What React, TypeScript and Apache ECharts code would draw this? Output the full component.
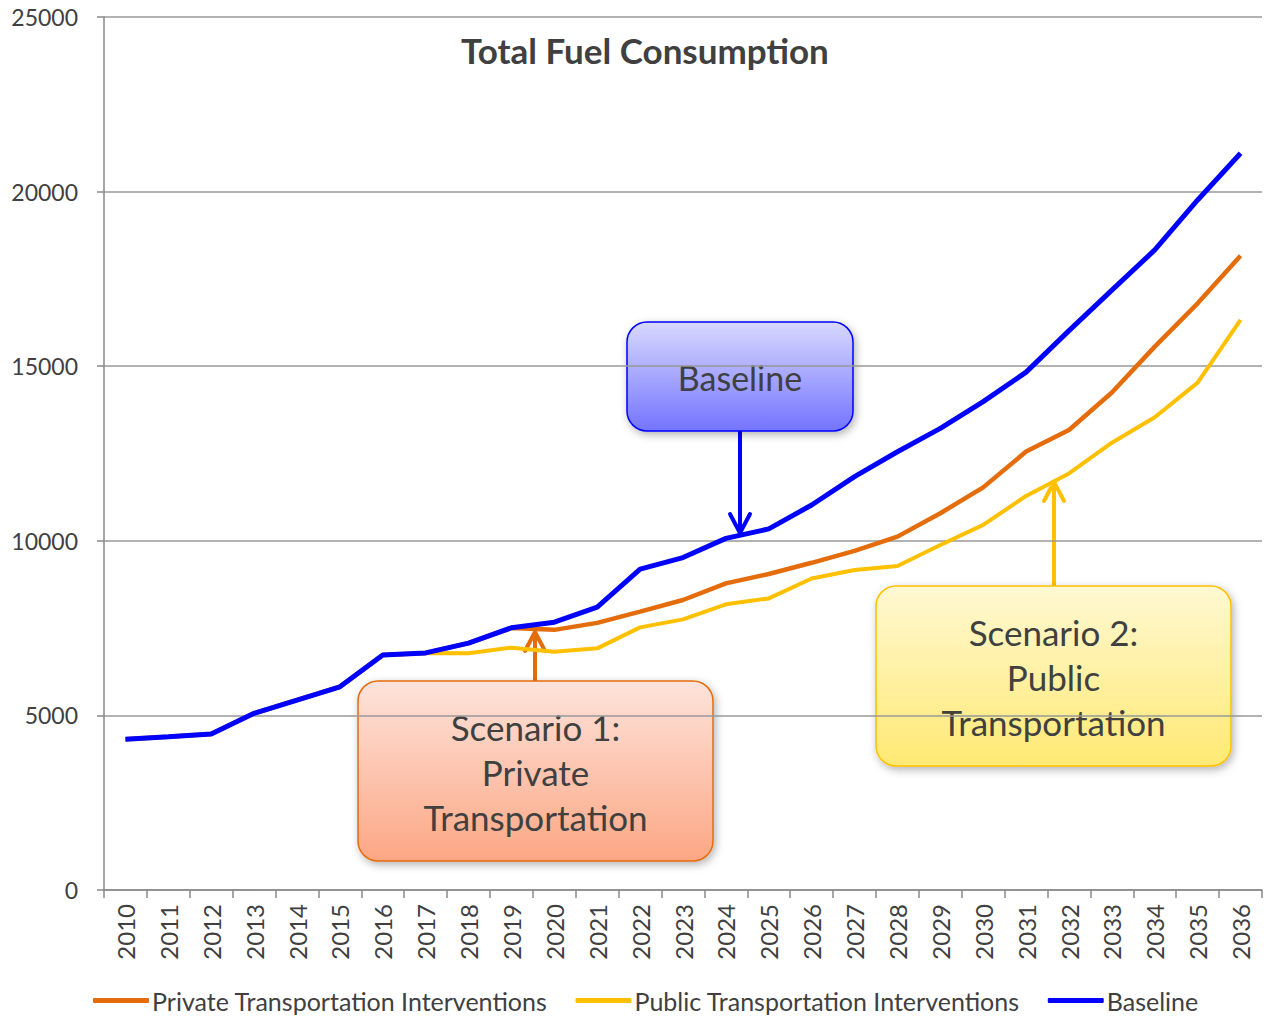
import React, { useEffect, useRef } from "react";
import * as echarts from "echarts";

const years = ["2010","2011","2012","2013","2014","2015","2016","2017","2018","2019","2020","2021","2022","2023","2024","2025","2026","2027","2028","2029","2030","2031","2032","2033","2034","2035","2036"];
const baseline = [4320,4390,4470,5060,5440,5820,6730,6790,7070,7510,7670,8100,9190,9520,10070,10340,11025,11840,12550,13220,13985,14830,16020,17180,18330,19760,21100];
const privateTransport = [4320,4390,4470,5060,5440,5820,6730,6790,7070,7500,7450,7650,7970,8305,8780,9050,9370,9710,10120,10790,11530,12555,13175,14245,15560,16800,18160];
const publicTransport = [4320,4390,4470,5060,5440,5820,6730,6790,6780,6940,6820,6920,7520,7750,8180,8350,8920,9165,9280,9880,10455,11285,11930,12810,13540,14530,16325];
const seriesNames = ["Private Transportation Interventions","Public Transportation Interventions","Baseline"];
const yTicks = { min: 0, max: 25000, interval: 5000 };

const FONT = "Lato";
const TXT = "#404040";

function box(x: number, y: number, w: number, h: number, top: string, bottom: string, border: string, lines: string[], lineH: number, size: number) {
  return {
    type: "group",
    z: 100,
    children: [
      {
        type: "rect",
        shape: { x, y, width: w, height: h, r: 20 },
        style: {
          fill: new echarts.graphic.LinearGradient(0, 0, 0, 1, [
            { offset: 0, color: top },
            { offset: 1, color: bottom },
          ]),
          stroke: border,
          lineWidth: 1.5,
          shadowBlur: 8,
          shadowOffsetX: 2,
          shadowOffsetY: 3,
          shadowColor: "rgba(0,0,0,0.3)",
        },
      },
      {
        type: "text",
        x: x + w / 2,
        y: y + h / 2 + 1,
        style: {
          text: lines.join("\n"),
          font: `${size}px ${FONT}`,
          fill: TXT,
          align: "center",
          verticalAlign: "middle",
          lineHeight: lineH,
        },
      },
    ],
  };
}

function arrow(x: number, y1: number, y2: number, color: string, w: number) {
  const dir = y2 > y1 ? 1 : -1;
  return {
    type: "group",
    z: 99,
    children: [
      { type: "line", shape: { x1: x, y1, x2: x, y2: y2 - dir * 1 }, style: { stroke: color, lineWidth: w } },
      {
        type: "polyline",
        shape: { points: [[x - 10, y2 - dir * 19], [x, y2], [x + 10, y2 - dir * 19]] },
        style: { stroke: color, lineWidth: w, fill: "none", lineCap: "round", lineJoin: "round" },
      },
    ],
  };
}

export default function App() {
  const ref = useRef<HTMLDivElement>(null);
  useEffect(() => {
    if (!ref.current) return;
    const chart = echarts.init(ref.current, null, { renderer: "svg" });
    chart.setOption({
      animation: false,
      backgroundColor: "#ffffff",
      title: {
        text: "Total Fuel Consumption",
        left: 456,
        top: 27,
        textStyle: { fontFamily: FONT, fontSize: 35, fontWeight: "bold", color: TXT },
      },
      grid: { left: 104, right: 6, top: 17, bottom: 128, containLabel: false },
      legend: {
        left: 88,
        bottom: 0,
        icon: "roundRect",
        itemWidth: 56,
        itemHeight: 5,
        itemGap: 28,
        textStyle: { fontFamily: FONT, fontSize: 25, color: TXT, padding: [0, 0, 0, -2] },
        data: seriesNames,
      },
      xAxis: {
        type: "category",
        data: years,
        boundaryGap: true,
        axisLine: { lineStyle: { color: "#888", width: 1.5 } },
        axisTick: { show: true, interval: 0, length: 8, lineStyle: { color: "#888", width: 1.5 } },
        axisLabel: { rotate: 90, interval: 0, margin: 14, fontFamily: FONT, fontSize: 24, color: TXT },
      },
      yAxis: {
        type: "value",
        min: yTicks.min,
        max: yTicks.max,
        interval: yTicks.interval,
        axisLine: { show: true, lineStyle: { color: "#888", width: 1.5 } },
        axisTick: { show: true, length: 7, lineStyle: { color: "#888", width: 1.5 } },
        axisLabel: { margin: 26, fontFamily: FONT, fontSize: 23, color: TXT, formatter: (v: number) => String(v) },
        splitLine: { lineStyle: { color: "#999", width: 1.5 } },
      },
      series: [
        { name: seriesNames[0], type: "line", data: privateTransport, symbol: "none", color: "#e46c0a", lineStyle: { width: 4.5, color: "#e46c0a" } },
        { name: seriesNames[1], type: "line", data: publicTransport, symbol: "none", color: "#ffc000", lineStyle: { width: 4, color: "#ffc000" } },
        { name: seriesNames[2], type: "line", data: baseline, symbol: "none", color: "#0000ff", lineStyle: { width: 5, color: "#0000ff" } },
      ],
      graphic: [
        arrow(740, 431, 533, "#0000ff", 4),
        arrow(535, 681, 632, "#e46c0a", 4),
        arrow(1054, 586, 482, "#ffc000", 4),
        box(627, 322, 226, 109, "#d8d8ff", "#7474ff", "#0000ff", ["Baseline"], 44, 34),
        box(358, 681, 355, 180, "#fde3db", "#fca784", "#e46c0a", ["Scenario 1:", "Private", "Transportation"], 45, 35),
        box(876, 586, 355, 180, "#fff8d2", "#ffe974", "#ffc000", ["Scenario 2:", "Public", "Transportation"], 45, 35),
      ],
    });
    return () => chart.dispose();
  }, []);
  return <div ref={ref} style={{ position: "fixed", left: 0, top: 0, width: 1268, height: 1018 }} />;
}
